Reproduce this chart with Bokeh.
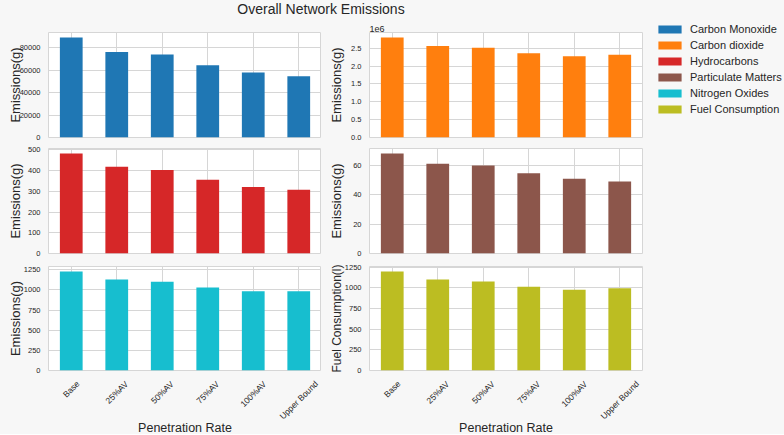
import math
from bokeh.plotting import figure
from bokeh.models import (ColumnDataSource, Range1d, FactorRange, SingleIntervalTicker,
                          CustomJSTickFormatter, Label, LabelSet, Legend, LegendItem)
from bokeh.core.properties import value
from bokeh.layouts import row, column
from bokeh.embed import file_html
from bokeh.resources import INLINE

# data
rates = ["Base", "25%AV", "50%AV", "75%AV", "100%AV", "Upper Bound"]
carbon_monoxide = [88900, 76100, 73700, 64300, 57700, 54500]
carbon_dioxide = [2800000, 2565000, 2510000, 2360000, 2275000, 2320000]
hydrocarbons = [482, 418, 403, 355, 321, 307]
particulate_matters = [67.9, 60.9, 59.8, 54.5, 50.7, 48.9]
nitrogen_oxides = [1228, 1127, 1100, 1028, 983, 982]
fuel_consumption = [1198, 1101, 1077, 1013, 977, 996]

series_names = ["Carbon Monoxide", "Carbon dioxide", "Hydrocarbons",
                "Particulate Matters", "Nitrogen Oxides", "Fuel Consumption"]
y_labels = ["Emissions(g)", "Emissions(g)", "Emissions(g)",
            "Emissions(g)", "Emissions(g)", "Fuel Consumption(l)"]
tick_steps = [20000, 500000, 100, 20, 250, 250]
colors = ["#1f77b4", "#ff7f0e", "#d62728", "#8c564b", "#17becf", "#bcbd22"]

FONT = "Liberation Sans"
TXT = "#262626"
BG = "#f7f7f7"
GRID = "#d6d6d6"
XTICK_SIZE = 8.5

# rough Arial advance widths, used only to place labels
CHAR_W = {"B": .667, "a": .556, "s": .5, "e": .556, "%": .889, "A": .667, "V": .667,
          "U": .722, "p": .556, "r": .333, " ": .278, "o": .556, "u": .556,
          "n": .556, "d": .556, ".": .278}


def text_width(s, size):
    return sum(CHAR_W.get(ch, .556) for ch in s) * size


def tick_text(v, step):
    if step >= 500000:
        return "%.1f" % (v / 1e6)
    return "%g" % v


# row geometry: (figure height, top border, bottom border)
ROWS = [(125, 15, 5), (117, 6, 6), (116, 7, 5)]
STRIP_H = 59


def panel(vals, color, step, ylabel, col, row_i):
    left = col == 0
    h, top_b, bottom_b = ROWS[row_i]
    p = figure(x_range=FactorRange(*rates), y_range=Range1d(0, max(vals) * 1.05),
               width=321 if left else 322, height=h,
               min_border_left=48, min_border_right=0 if left else 1,
               min_border_top=top_b, min_border_bottom=bottom_b,
               toolbar_location=None, output_backend="svg",
               background_fill_color="white", border_fill_color=BG,
               outline_line_color=GRID)
    p.vbar(x=rates, top=vals, width=0.5, color=color, line_color=None)

    p.xaxis.visible = False
    p.xgrid.grid_line_color = GRID
    ticker = SingleIntervalTicker(interval=step, num_minor_ticks=0)
    p.yaxis.ticker = ticker
    p.ygrid.ticker = ticker
    p.ygrid.grid_line_color = GRID
    if step >= 500000:
        p.yaxis.formatter = CustomJSTickFormatter(code="return (tick / 1e6).toFixed(1)")
        p.title.text = "1e6"
        p.title.text_font = FONT
        p.title.text_font_size = "9px"
        p.title.text_font_style = "normal"
        p.title.text_color = TXT
        p.title.align = "left"
        p.title.offset = 0
        p.title.standoff = 2
    ax = p.yaxis[0]
    ax.axis_label = ylabel
    ax.axis_label_text_font = FONT
    ax.axis_label_text_font_size = "12px" if len(ylabel) > 14 else "13px"
    ax.axis_label_text_font_style = "normal"
    ax.axis_label_text_color = TXT
    ax.major_label_text_font = FONT
    ax.major_label_text_font_size = "7.5px"
    ax.major_label_text_color = TXT
    ax.axis_line_color = None
    ax.major_tick_line_color = None
    ax.minor_tick_line_color = None
    ax.major_tick_out = 0
    ax.major_label_standoff = 8
    widest = 0
    t = 0
    while t <= max(vals) * 1.05:
        widest = max(widest, text_width(tick_text(t, step), 7.5))
        t += step
    ax.axis_label_standoff = int(round(30 - 8 - widest - 7.5))
    return p


def strip(p, col):
    # band under a bottom panel holding its rotated category labels
    left = col == 0
    s = figure(x_range=p.x_range, y_range=Range1d(0, STRIP_H),
               width=321 if left else 322, height=STRIP_H,
               min_border_left=48, min_border_right=0 if left else 1,
               min_border_top=0, min_border_bottom=0,
               toolbar_location=None, output_backend="svg",
               x_axis_location=None, y_axis_location=None, outline_line_color=None,
               background_fill_color=BG, border_fill_color=BG)
    s.grid.visible = False
    ys = [STRIP_H - (3.5 + 0.3536 * (text_width(r, XTICK_SIZE) + 1.1 * XTICK_SIZE))
          for r in rates]
    src = ColumnDataSource(data=dict(x=rates, y=ys, text=rates))
    s.add_layout(LabelSet(x="x", y="y", text="text", source=src, angle=math.pi / 4,
                          text_align="center", text_baseline="middle",
                          text_font=value(FONT), text_font_size="%spx" % XTICK_SIZE,
                          text_color=TXT))
    s.add_layout(Label(x=3, y=7, text="Penetration Rate", text_font=FONT,
                       text_font_size="12.5px", text_color=TXT,
                       text_align="center", text_baseline="middle"))
    return s


all_vals = [carbon_monoxide, carbon_dioxide, hydrocarbons,
            particulate_matters, nitrogen_oxides, fuel_consumption]
figs = [panel(v, c, s, yl, i % 2, i // 2)
        for i, (v, c, s, yl) in enumerate(zip(all_vals, colors, tick_steps, y_labels))]

header = figure(width=643, height=17, min_border=0, toolbar_location=None,
                output_backend="svg", x_axis_location=None, y_axis_location=None,
                outline_line_color=None, background_fill_color=BG, border_fill_color=BG)
header.grid.visible = False
header.add_layout(Label(x=320.5, y=9, x_units="screen", y_units="screen",
                        text="Overall Network Emissions", text_font=FONT,
                        text_font_size="14px", text_color=TXT,
                        text_align="center", text_baseline="middle"))

total_h = 17 + sum(r[0] for r in ROWS) + STRIP_H
leg = figure(width=141, height=total_h, min_border=0, min_border_left=12, min_border_top=23,
             x_range=FactorRange(*rates), y_range=Range1d(0, 1),
             toolbar_location=None, output_backend="svg",
             x_axis_location=None, y_axis_location=None, outline_line_color=None,
             background_fill_color=BG, border_fill_color=BG)
leg.grid.visible = False
items = []
for name, c, v in zip(series_names, colors, all_vals):
    r = leg.vbar(x=rates, top=v, width=0.5, color=c, line_color=None)
    r.visible = False
    items.append(LegendItem(label=name, renderers=[r]))
legend = Legend(items=items, location="top_left", margin=0, padding=0, spacing=4,
                glyph_width=29, glyph_height=10, label_height=10, label_standoff=6,
                label_text_font=FONT, label_text_font_size="11px",
                label_text_color=TXT, border_line_color=None,
                background_fill_alpha=0)
leg.add_layout(legend)

layout = row(column(header, row(figs[0], figs[1]), row(figs[2], figs[3]),
                    row(figs[4], figs[5]), row(strip(figs[4], 0), strip(figs[5], 1))),
             leg, styles={"background-color": BG})

open("out.html", "w").write(file_html(layout, INLINE))
